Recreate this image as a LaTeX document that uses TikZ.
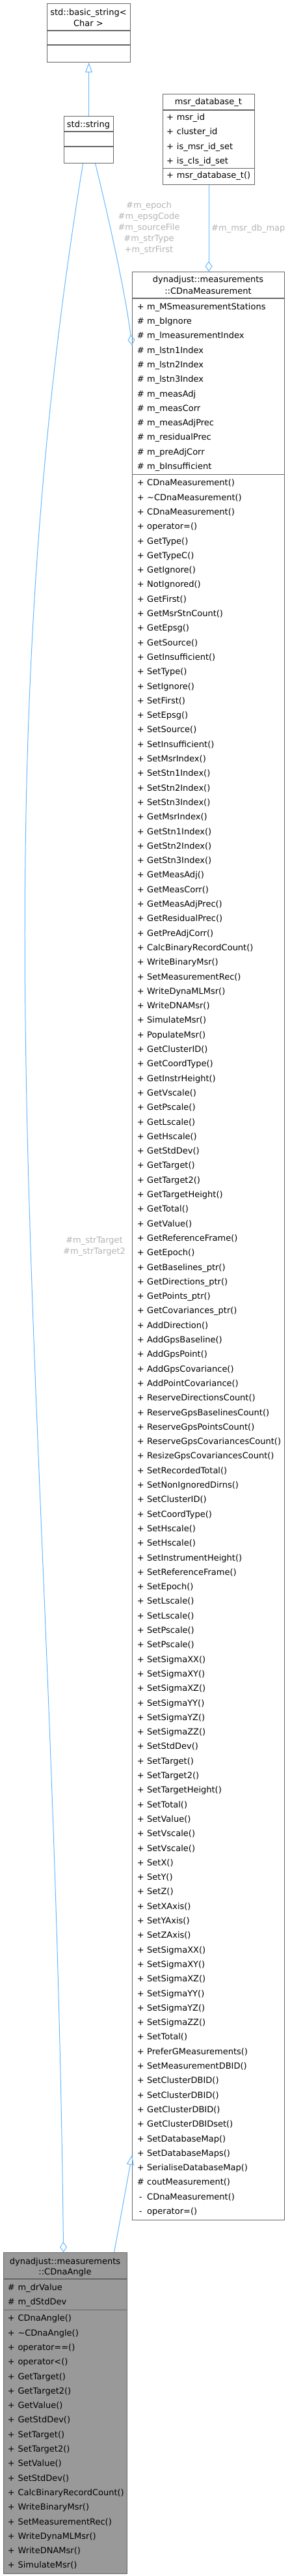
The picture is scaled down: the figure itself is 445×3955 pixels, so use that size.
\documentclass[tikz,border=0pt]{standalone}
\usepackage{fontspec}
\setmainfont{DejaVu Sans}
\usetikzlibrary{arrows.meta}
\definecolor{edgeblue}{HTML}{63B8FF}
\definecolor{boxgray}{HTML}{666666}
\definecolor{lblgray}{HTML}{B4B4B4}
\definecolor{curfill}{HTML}{999999}
\newcommand\umlrows[5]{%
  \foreach \s/\n [count=\i from 0] in {#5} {%
    \node[txt] (#1s\i) at (#2,#4+22.3*\i) {\s};
    \node[txt,anchor=base west] (#1n\i) at (#3,#4+22.3*\i) {\n};
  }}
\begin{document}
\begin{tikzpicture}[x=1pt,y=-1pt,
  txt/.style={inner sep=0pt,anchor=base,font=\fontsize{13pt}{17pt}\selectfont},
  lbl/.style={txt,text=lblgray},
  umlbox/.style={draw=boxgray,line width=1.2pt,fill=white,inner sep=0pt,anchor=north west},
  divider/.style={draw=boxgray,line width=1.2pt},
  aggline/.style={draw=edgeblue,line width=1pt,-{Diamond[open,length=16pt,width=11pt]}},
  inhline/.style={draw=edgeblue,line width=1pt,-{Triangle[open,length=15pt,width=11pt]}}]
\useasboundingbox[fill=white] (0,0) rectangle (445,3955);
% boxes
\node[umlbox,minimum width=128pt,minimum height=90pt] (bstr) at (72,5) {};
\draw[divider] (72,47) -- (200,47);
\draw[divider] (72,69) -- (200,69);
\node[txt] (bstrT1) at (136,23.5) {std::basic\_string<};
\node[txt] (bstrT2) at (136,40.5) {Char >};

\node[umlbox,minimum width=76pt,minimum height=72pt] (strbox) at (98,178) {};
\draw[divider] (98,202) -- (174,202);
\draw[divider] (98,225) -- (174,225);
\node[txt] (strT) at (136,195.5) {std::string};

\node[umlbox,minimum width=141pt,minimum height=139pt] (msrdb) at (250,144) {};
\draw[divider] (250,169) -- (391,169);
\draw[divider] (250,258.5) -- (391,258.5);
\node[txt] (msrdbT) at (320.5,161) {msr\_database\_t};
\umlrows{db}{261.5}{271.7}{184.5}{+/msr\_id, +/cluster\_id, +/is\_msr\_id\_set, +/is\_cls\_id\_set}
\umlrows{dbm}{261.5}{271.7}{273.8}{+/msr\_database\_t()}

\node[umlbox,minimum width=234pt,minimum height=2990.6pt] (msm) at (203,417) {};
\draw[divider] (203,458) -- (437,458);
\draw[divider] (203,728.6) -- (437,728.6);
\node[txt] (msmT1) at (320,433.5) {dynadjust::measurements};
\node[txt] (msmT2) at (320,451) {::CDnaMeasurement};
\umlrows{ma}{216.2}{226}{475.2}{+/m\_MSmeasurementStations, \#/m\_bIgnore, \#/m\_lmeasurementIndex, \#/m\_lstn1Index, \#/m\_lstn2Index, \#/m\_lstn3Index, \#/m\_measAdj, \#/m\_measCorr, \#/m\_measAdjPrec, \#/m\_residualPrec, \#/m\_preAdjCorr, \#/m\_bInsufficient}
\umlrows{mm}{216.2}{226}{745.8}{+/CDnaMeasurement(), +/\textasciitilde CDnaMeasurement(), +/CDnaMeasurement(), +/operator=(), +/GetType(), +/GetTypeC(), +/GetIgnore(), +/NotIgnored(), +/GetFirst(), +/GetMsrStnCount(), +/GetEpsg(), +/GetSource(), +/GetInsufficient(), +/SetType(), +/SetIgnore(), +/SetFirst(), +/SetEpsg(), +/SetSource(), +/SetInsufficient(), +/SetMsrIndex(), +/SetStn1Index(), +/SetStn2Index(), +/SetStn3Index(), +/GetMsrIndex(), +/GetStn1Index(), +/GetStn2Index(), +/GetStn3Index(), +/GetMeasAdj(), +/GetMeasCorr(), +/GetMeasAdjPrec(), +/GetResidualPrec(), +/GetPreAdjCorr(), +/CalcBinaryRecordCount(), +/WriteBinaryMsr(), +/SetMeasurementRec(), +/WriteDynaMLMsr(), +/WriteDNAMsr(), +/SimulateMsr(), +/PopulateMsr(), +/GetClusterID(), +/GetCoordType(), +/GetInstrHeight(), +/GetVscale(), +/GetPscale(), +/GetLscale(), +/GetHscale(), +/GetStdDev(), +/GetTarget(), +/GetTarget2(), +/GetTargetHeight(), +/GetTotal(), +/GetValue(), +/GetReferenceFrame(), +/GetEpoch(), +/GetBaselines\_ptr(), +/GetDirections\_ptr(), +/GetPoints\_ptr(), +/GetCovariances\_ptr(), +/AddDirection(), +/AddGpsBaseline(), +/AddGpsPoint(), +/AddGpsCovariance(), +/AddPointCovariance(), +/ReserveDirectionsCount(), +/ReserveGpsBaselinesCount(), +/ReserveGpsPointsCount(), +/ReserveGpsCovariancesCount(), +/ResizeGpsCovariancesCount(), +/SetRecordedTotal(), +/SetNonIgnoredDirns(), +/SetClusterID(), +/SetCoordType(), +/SetHscale(), +/SetHscale(), +/SetInstrumentHeight(), +/SetReferenceFrame(), +/SetEpoch(), +/SetLscale(), +/SetLscale(), +/SetPscale(), +/SetPscale(), +/SetSigmaXX(), +/SetSigmaXY(), +/SetSigmaXZ(), +/SetSigmaYY(), +/SetSigmaYZ(), +/SetSigmaZZ(), +/SetStdDev(), +/SetTarget(), +/SetTarget2(), +/SetTargetHeight(), +/SetTotal(), +/SetValue(), +/SetVscale(), +/SetVscale(), +/SetX(), +/SetY(), +/SetZ(), +/SetXAxis(), +/SetYAxis(), +/SetZAxis(), +/SetSigmaXX(), +/SetSigmaXY(), +/SetSigmaXZ(), +/SetSigmaYY(), +/SetSigmaYZ(), +/SetSigmaZZ(), +/SetTotal(), +/PreferGMeasurements(), +/SetMeasurementDBID(), +/SetClusterDBID(), +/SetClusterDBID(), +/GetClusterDBID(), +/GetClusterDBIDset(), +/SetDatabaseMap(), +/SetDatabaseMaps(), +/SerialiseDatabaseMap(), \#/coutMeasurement(), -/CDnaMeasurement(), -/operator=()}

\node[umlbox,fill=curfill,minimum width=190pt,minimum height=493pt] (angle) at (5,3458) {};
\draw[divider] (5,3499) -- (195,3499);
\draw[divider] (5,3546.6) -- (195,3546.6);
\node[txt] (angT1) at (100,3476) {dynadjust::measurements};
\node[txt] (angT2) at (100,3492.5) {::CDnaAngle};
\umlrows{aa}{17.3}{27.3}{3516.2}{\#/m\_drValue, \#/m\_dStdDev}
\umlrows{am}{17.3}{27.3}{3563.8}{+/CDnaAngle(), +/\textasciitilde CDnaAngle(), +/operator==(), +/operator<(), +/GetTarget(), +/GetTarget2(), +/GetValue(), +/GetStdDev(), +/SetTarget(), +/SetTarget2(), +/SetValue(), +/SetStdDev(), +/CalcBinaryRecordCount(), +/WriteBinaryMsr(), +/SetMeasurementRec(), +/WriteDynaMLMsr(), +/WriteDNAMsr(), +/SimulateMsr()}

% connectors
\draw[inhline] (strbox.north) -- (bstr.south);
\draw[aggline] ([xshift=-9pt]strbox.south) .. controls (-45,1300) and (83,2142) .. ([xshift=-3pt]angle.north);
\draw[aggline] ([xshift=10pt]strbox.south) .. controls (166,330) and (192,445) .. ([yshift=-113pt]msm.north west);
\draw[aggline] (msrdb.south) -- (msrdb.south |- msm.north);
\draw[inhline] ([xshift=75pt]angle.north) -- ([yshift=100pt]msm.south west);

% edge labels
\node[lbl] (lbA1) at (229,319.5) {\#m\_epoch};
\node[lbl] (lbA2) at (229,336.5) {\#m\_epsgCode};
\node[lbl] (lbA3) at (229,353.5) {\#m\_sourceFile};
\node[lbl] (lbA4) at (229,370.5) {\#m\_strType};
\node[lbl] (lbA5) at (229,387.5) {+m\_strFirst};
\node[lbl] (lbB1) at (145,1908.5) {\#m\_strTarget};
\node[lbl] (lbB2) at (145,1925.5) {\#m\_strTarget2};
\node[lbl,anchor=base west] (lbC) at (325,354.5) {\#m\_msr\_db\_map};
\end{tikzpicture}
\end{document}
